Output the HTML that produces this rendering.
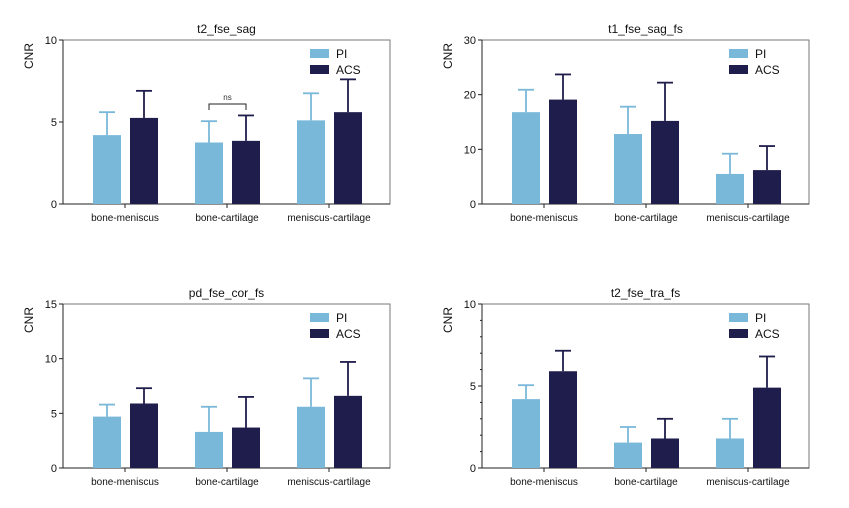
<!DOCTYPE html>
<html><head><meta charset="utf-8"><style>
body{margin:0;background:#fff;}
svg{display:block;font-family:"Liberation Sans",Arial,sans-serif;}
</style></head><body>
<svg id="root" width="849" height="508"></svg>
<script>
const categories = ["bone-meniscus","bone-cartilage","meniscus-cartilage"];
const titles = ["t2_fse_sag","t1_fse_sag_fs","pd_fse_cor_fs","t2_fse_tra_fs"];
const yMaxes = [10,30,15,10];
const yTickLabels = [[0,5,10],[0,10,20,30],[0,5,10,15],[0,5,10]];
const piMeans = [[4.2,3.75,5.1],[16.8,12.8,5.5],[4.7,3.3,5.6],[4.2,1.55,1.8]];
const piErrTops = [[5.6,5.05,6.75],[20.9,17.8,9.2],[5.8,5.6,8.2],[5.05,2.5,3.0]];
const acsMeans = [[5.25,3.85,5.6],[19.1,15.2,6.2],[5.9,3.7,6.6],[5.9,1.8,4.9]];
const acsErrTops = [[6.9,5.4,7.6],[23.7,22.2,10.6],[7.3,6.5,9.7],[7.15,3.0,6.8]];
const minorStep = [0,0,0,1];

const NS="http://www.w3.org/2000/svg";
const root=document.getElementById('root');
const frames=[{x0:63,x1:390,y0:40,y1:204},{x0:482,x1:809,y0:40,y1:204},{x0:63,x1:390,y0:304,y1:468},{x0:482,x1:809,y0:304,y1:468}];
const PI="#7ab8d9", ACS="#1f1d4b";
function mk(tag,attrs,parent){const e=document.createElementNS(NS,tag);for(const k in attrs)e.setAttribute(k,attrs[k]);(parent||root).appendChild(e);return e;}
frames.forEach((f,ci)=>{
  const g=mk('g',{});
  
  
  const y=v=>f.y1-(v/yMaxes[ci])*(f.y1-f.y0);
  const xc=i=>f.x0+62+102*i;
  // frame
  const fr=mk('rect',{x:f.x0,y:f.y0,width:f.x1-f.x0,height:f.y1-f.y0,fill:'none',stroke:'#777','stroke-width':1},g);
  
  
  mk('line',{x1:f.x0,y1:f.y0,x2:f.x0,y2:f.y1,stroke:'#222'},g);
  mk('line',{x1:f.x0,y1:f.y1,x2:f.x1,y2:f.y1,stroke:'#222'},g);
  const t=mk('text',{x:(f.x0+f.x1)/2,y:f.y0-7,'text-anchor':'middle','font-size':12,fill:'#111'},g);
  t.textContent=titles[ci];
  
  
  const yl=mk('text',{transform:`translate(${f.x0-30},${f.y0+16}) rotate(-90)`,'text-anchor':'middle','font-size':12,fill:'#111'},g);
  yl.textContent='CNR';
  
  
  yTickLabels[ci].forEach(v=>{
    mk('line',{x1:f.x0-4,y1:y(v),x2:f.x0,y2:y(v),stroke:'#222'},g);
    const tl=mk('text',{x:f.x0-6,y:y(v)+4,'text-anchor':'end','font-size':11,fill:'#111'},g);
    tl.textContent=v;
    
    
  });
  if(minorStep[ci]){for(let v=minorStep[ci];v<yMaxes[ci];v+=minorStep[ci]){mk('line',{x1:f.x0-2,y1:y(v),x2:f.x0,y2:y(v),stroke:'#222'},g);}}
  categories.forEach((c,i)=>{
    const cx=xc(i);
    mk('line',{x1:cx,y1:f.y1,x2:cx,y2:f.y1+4,stroke:'#222'},g);
    const cl=mk('text',{x:cx,y:f.y1+17,'text-anchor':'middle','font-size':10,fill:'#111'},g);
    cl.textContent=c;
    
    
    [[piMeans,piErrTops,PI,-1,'pi'],[acsMeans,acsErrTops,ACS,1,'acs']].forEach(([m,e,col,side,nm])=>{
      const bx=side<0?cx-32:cx+5, bw=28, bcx=bx+bw/2;
      const top=y(m[ci][i]), et=y(e[ci][i]);
      mk('line',{x1:bcx,y1:top,x2:bcx,y2:et,stroke:col,'stroke-width':1.8},g);
      mk('line',{x1:bcx-8,y1:et,x2:bcx+8,y2:et,stroke:col,'stroke-width':1.8},g);
      const r=mk('rect',{x:bx,y:top,width:bw,height:f.y1-top,fill:col},g);
      
      
    });
  });
  // legend
  [['PI',PI],['ACS',ACS]].forEach(([lab,col],k)=>{
    const lr=mk('rect',{x:f.x0+247,y:f.y0+9+k*16,width:19,height:9,fill:col},g);
    
    
    const lt=mk('text',{x:f.x0+273,y:f.y0+18+k*16,'font-size':12,fill:'#111'},g);
    lt.textContent=lab;
    
    
  });
  if(ci===0){
    const a=xc(1)-18,b=xc(1)+19,by=104;
    const br=mk('path',{d:`M${a},${by+6}V${by}H${b}V${by+6}`,fill:'none',stroke:'#222'},g);
    
    
    const ns=mk('text',{x:(a+b)/2,y:by-4,'text-anchor':'middle','font-size':8,fill:'#333'},g);
    ns.textContent='ns';
    
    
  }
});
</script>
</body></html>
